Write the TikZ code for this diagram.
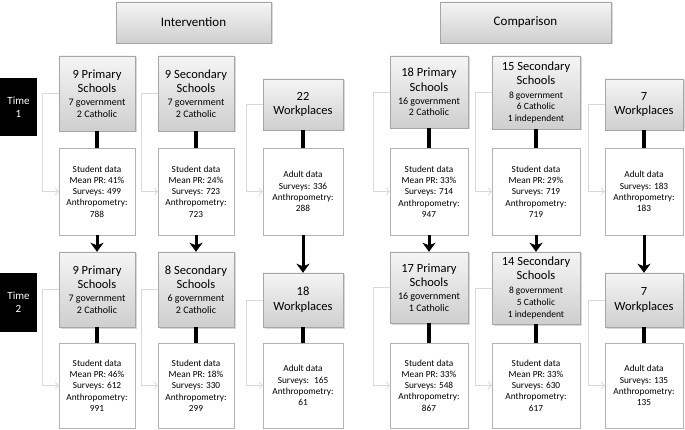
\documentclass[tikz,border=0pt]{standalone}
\usepackage{fontspec}
\setmainfont{Carlito}
\usetikzlibrary{arrows.meta,shadows}

\newcommand{\subtxt}{\fontsize{10}{11}\selectfont}
\newcommand{\smalltxt}{\fontsize{9.5}{11}\selectfont}

\begin{document}
\begin{tikzpicture}[x=1pt,y=-1pt,
    head/.style={rectangle, draw=gray!70, top color=gray!8, bottom color=gray!38,
      drop shadow={opacity=0.3, shadow xshift=1.5pt, shadow yshift=-1.5pt},
      inner sep=0pt, align=center},
    unit/.style={head, font=\fontsize{12.5}{11.8}\selectfont},
    datum/.style={rectangle, draw=gray!60, fill=white, inner sep=0pt, align=center,
      font=\fontsize{9.3}{11.3}\selectfont},
    timebox/.style={rectangle, fill=black, text=white, inner sep=0pt, align=center,
      font=\fontsize{11}{13}\selectfont, minimum width=37, minimum height=58},
    link/.style={draw=gray!30, line width=0.8pt, -{Straight Barb[length=3pt,width=7pt]}},
    stem/.style={line width=3.5pt},
    godown/.style={line width=3pt, -{Stealth[length=9pt,width=13pt,inset=2.5pt]}}]

    \useasboundingbox (0,0) rectangle (685,430);

    % headings
    \node at (193.5,22.5) [head, minimum width=155, minimum height=41, font=\fontsize{13}{14}\selectfont] (Int) {Intervention};
    \node at (525.5,22.5) [head, minimum width=171, minimum height=41, font=\fontsize{13}{14}\selectfont] (Comp) {Comparison};
    \node at (18.5,107) [timebox] (T1) {Time\\1};
    \node at (18.5,302.5) [timebox] (T2) {Time\\2};

    % time 1
    \node at (97,93.5) [unit, minimum width=76, minimum height=75] (IP1) {9 Primary\\[3pt]Schools\\[1pt]{\subtxt 7 government}\\{\subtxt 2 Catholic}};
    \node at (196,93.5) [unit, minimum width=76, minimum height=75] (IS1) {9 Secondary\\[3pt]Schools\\[1pt]{\subtxt 7 government}\\{\subtxt 2 Catholic}};
    \node at (303,104.5) [unit, minimum width=80, minimum height=51] (IW1) {22\\[3pt]Workplaces};
    \node at (429,92) [unit, minimum width=78, minimum height=72] (CP1) {18 Primary\\[3pt]Schools\\[1pt]{\subtxt 16 government}\\{\subtxt 2 Catholic}};
    \node at (536,92.5) [unit, minimum width=88, minimum height=73] (CS1) {15 Secondary\\[2pt]Schools\\[2pt]{\smalltxt 8 government}\\{\smalltxt 6 Catholic}\\{\smalltxt 1 independent}};
    \node at (644,104.5) [unit, minimum width=78, minimum height=51] (CW1) {7\\[3pt]Workplaces};

    \node at (97,191.5) [datum, minimum width=76, minimum height=87] (IP1d) {Student data\\Mean PR: 41\%\\Surveys: 499\\Anthropometry:\\788};
    \node at (196,191.5) [datum, minimum width=76, minimum height=87] (IS1d) {Student data\\Mean PR: 24\%\\Surveys: 723\\Anthropometry:\\723};
    \node at (303,191.5) [datum, minimum width=80, minimum height=87] (IW1d) {Adult data\\Surveys: 336\\Anthropometry:\\288};
    \node at (429,191.5) [datum, minimum width=78, minimum height=87] (CP1d) {Student data\\Mean PR: 33\%\\Surveys: 714\\Anthropometry:\\947};
    \node at (536,191.5) [datum, minimum width=88, minimum height=87] (CS1d) {Student data\\Mean PR: 29\%\\Surveys: 719\\Anthropometry:\\719};
    \node at (644,191.5) [datum, minimum width=78, minimum height=87] (CW1d) {Adult data\\Surveys: 183\\Anthropometry:\\183};

    % time 2
    \node at (97,289.5) [unit, minimum width=76, minimum height=75] (IP2) {9 Primary\\[3pt]Schools\\[1pt]{\subtxt 7 government}\\{\subtxt 2 Catholic}};
    \node at (196,289.5) [unit, minimum width=76, minimum height=75] (IS2) {8 Secondary\\[3pt]Schools\\[1pt]{\subtxt 6 government}\\{\subtxt 2 Catholic}};
    \node at (303,300) [unit, minimum width=80, minimum height=54] (IW2) {18\\[3pt]Workplaces};
    \node at (429,287.5) [unit, minimum width=78, minimum height=71] (CP2) {17 Primary\\[3pt]Schools\\[1pt]{\subtxt 16 government}\\{\subtxt 1 Catholic}};
    \node at (536,288) [unit, minimum width=88, minimum height=72] (CS2) {14 Secondary\\[2pt]Schools\\[2pt]{\smalltxt 8 government}\\{\smalltxt 5 Catholic}\\{\smalltxt 1 independent}};
    \node at (644,300) [unit, minimum width=78, minimum height=54] (CW2) {7\\[3pt]Workplaces};

    \node at (97,385.5) [datum, minimum width=76, minimum height=85] (IP2d) {Student data\\Mean PR: 46\%\\Surveys: 612\\Anthropometry:\\991};
    \node at (196,385.5) [datum, minimum width=76, minimum height=85] (IS2d) {Student data\\Mean PR: 18\%\\Surveys: 330\\Anthropometry:\\299};
    \node at (303,385.5) [datum, minimum width=80, minimum height=85] (IW2d) {Adult data\\Surveys:~ 165\\Anthropometry:\\61};
    \node at (429,385.5) [datum, minimum width=78, minimum height=85] (CP2d) {Student data\\Mean PR: 33\%\\Surveys: 548\\Anthropometry:\\867};
    \node at (536,385.5) [datum, minimum width=88, minimum height=85] (CS2d) {Student data\\Mean PR: 33\%\\Surveys: 630\\Anthropometry:\\617};
    \node at (644,385.5) [datum, minimum width=78, minimum height=85] (CW2d) {Adult data\\Surveys: 135\\Anthropometry:\\135};

    % connectors
    \foreach \u in {IP1,IS1,IW1,CP1,CS1,CW1,IP2,IS2,IW2,CP2,CS2,CW2} {
        \draw[link] (\u.west) -- ++(-16,0) |- (\u d.west);
        \draw[stem] (\u.south) -- (\u d.north);
    }
    \foreach \a/\b in {IP1d/IP2,IS1d/IS2,IW1d/IW2,CP1d/CP2,CS1d/CS2,CW1d/CW2}
        \draw[godown] (\a.south) -- (\b.north);
\end{tikzpicture}
\end{document}
